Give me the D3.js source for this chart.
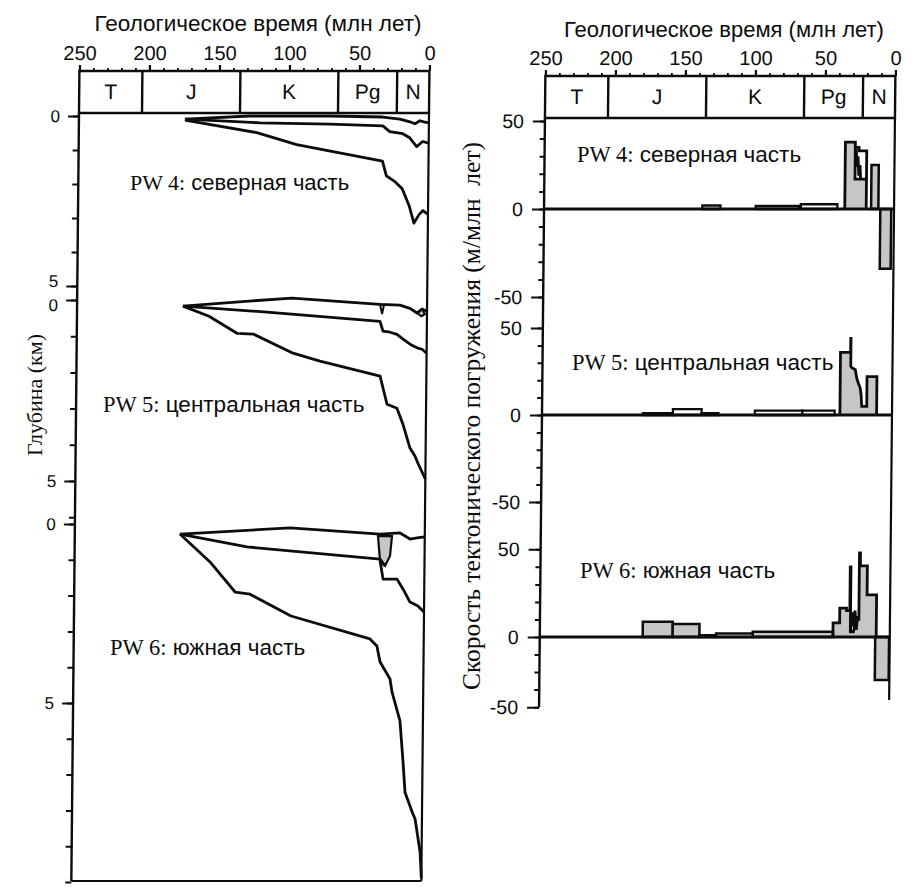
<!DOCTYPE html>
<html lang="ru">
<head>
<meta charset="utf-8">
<script src="https://cdn.jsdelivr.net/npm/d3@7/dist/d3.min.js"></script>
<style>
  body { margin: 0; background: #fff; }
  svg { display: block; }
</style>
</head>
<body>
<svg id="chart" width="921" height="888"></svg>
<script>
// ---------- geological time scale ----------
const periodNames   = ["T", "J", "K", "Pg", "N"];
const periodBounds  = [250, 205, 135, 65, 23, 0];
const ageTickLabels = [250, 200, 150, 100, 50, 0];
const ageMinorTicks = d3.range(250, -1, -10);

// ---------- wells ----------
const wellIds   = ["PW 4:", "PW 5:", "PW 6:"];
const wellParts = ["северная часть", "центральная часть", "южная часть"];

// ---------- burial history: [age, Ma ; depth, km] ----------
const pw4Top  = [[174.3,0.09],[127.9,0.0],[70.7,0.0],[32.9,0.03],[20.7,0.09],[13.6,0.17],[10,0.23],[6.4,0.14],[3.6,0.17],[0,0.2]];
const pw4Mid  = [[174.3,0.09],[120.7,0.2],[70.7,0.24],[32.9,0.29],[27.9,0.46],[18.6,0.52],[13.6,0.64],[8.6,0.9],[4.3,0.75],[0,0.8]];
const pw4Base = [[174.3,0.12],[122.9,0.49],[94.3,0.84],[32.9,1.33],[30,1.76],[23.6,1.94],[18.6,2.14],[13.6,2.63],[10,3.15],[6.4,2.9],[3.6,2.78],[0,2.89]];

const pw5Top  = [[174.4,0.17],[127.2,0.03],[96.6,-0.05],[33.6,0.12],[19.4,0.14],[12.2,0.23],[7.1,0.36],[3.6,0.25],[0,0.31]];
const pw5Mid  = [[174.4,0.17],[112.1,0.34],[33.5,0.59],[31.3,0.86],[26.3,0.89],[21.3,0.95],[16.9,1.08],[11.9,1.22],[6.2,1.33],[3.3,1.36],[0,1.47]];
const pw5Base = [[174.4,0.17],[155.7,0.45],[135.6,0.92],[123.9,0.94],[95.4,1.47],[76.1,1.69],[33.1,2.1],[27.9,2.88],[20.8,2.99],[16.4,3.43],[11.2,4.09],[7.6,4.31],[5.4,4.51],[0.3,4.92],[0,4.95]];
const pw5Lens = [[33.6,0.12],[32.1,0.39],[30.8,0.14]];
const pw5Blob = [[7.1,0.36],[3.6,0.25],[1.5,0.39],[4.0,0.45]];

const pw6Top  = [[174.9,0.28],[96.3,0.11],[32,0.28],[17.7,0.25],[10.5,0.42],[5.5,0.39],[0,0.36]];
const pw6Mid  = [[174.9,0.28],[126.9,0.64],[31.8,0.98],[28.2,1.17]];
const pw6Low  = [[31.8,1.03],[31.1,1.17],[29.5,1.54],[19.5,1.54],[15.1,1.82],[10.1,2.18],[4.4,2.29],[0,2.46]];
const pw6Base = [[174.9,0.28],[153.2,1.06],[135.1,1.9],[124.4,1.96],[95,2.57],[38.4,3.21],[33.4,3.41],[31.1,3.85],[23.8,4.33],[22.3,4.69],[16.4,5.5],[13.9,6.65],[12.3,7.49],[7.1,8.04],[4.9,8.24],[2.6,8.8],[1.1,9.16],[0,9.9]];
const pw6Lens = [[33.4,0.34],[23.4,0.34],[24.7,0.89],[28.2,1.17],[31.8,1.03]];

// ---------- tectonic subsidence rate, m/Ma ----------
// open bars: [from Ma, to Ma, rate]
const pw4Open = [[137,124,2],[98.8,67.9,1.7],[66.6,40.5,2.7]];
const pw5Open = [[178,156.5,1],[156.5,136,3.4],[136,124,1],[98,64,2.5],[64,41,2.5]];
const pw6Open = [[136,124.1,1],[124.1,97.9,2]];
// shaded bars: [from Ma, to Ma, rate]
const pw4Shaded = [[16.4,11.2,25],[9.8,2,-34]];
const pw5Shaded = [];
const pw6Shaded = [[176.5,155.1,8.7],[155.1,136,7.4],[97.9,40.6,3],[10.4,0.5,-24.5]];
// shaded step profiles: [age, rate]
const pw4Profile = [[35.2,0],[35.2,38],[28.1,38],[28.1,17],[19.9,17],[19.9,0]];
const pw5Profile = [[37.2,0],[37.2,36],[30,36],[30,44],[29.8,44],[29.8,28],[28.8,27],[26.5,26],[25.4,21],[24.1,18],[22.9,15.5],[22.2,11.5],[21.7,5],[18.1,5],[18.1,22],[11,22],[11,0]];
const pw6Profile = [[40.6,0],[40.6,8],[35.9,8],[35.9,16.5],[31.1,16.5],[31.1,15],[28.7,15],[28.7,40],[28.2,40],[28.2,3],[26,3],[24,10],[22.2,10],[22.2,48],[21.5,48],[21.5,40.5],[16.5,40.5],[16.5,24],[9.7,24],[9.7,0]];
// additional rate traces
const pw4Traces = [
  [[28.1,35],[25.4,35],[25.4,33],[19.9,33],[19.9,17]],
  [[27.4,34],[26.8,24],[26.1,30],[25.4,19],[24.6,25],[24.1,17]]
];
const pw5Traces = [];
const pw6Traces = [
  [[28.2,3],[27,14],[26.2,6],[25,15],[24,4],[23,12]]
];
const rateTickLabels = [50, 0, -50];
const depthTickLabels = [0, 5];

// ====================== drawing ======================
const SANS  = "'Liberation Sans', Arial, sans-serif";
const SERIF = "'Liberation Serif', 'Times New Roman', serif";
const INK = "#0c0c0c";
const SHADE = "#c6c6c6";

const svg = d3.select("#chart");
// the whole figure is drawn with a slight shear of its vertical lines
const SHEAR = -0.01, SHEAR_Y = 113;
const root = svg.append("g")
  .attr("transform", `translate(${-SHEAR * SHEAR_Y},0) skewX(${Math.atan(SHEAR) * 180 / Math.PI})`);

const xL = d3.scaleLinear().domain([250, 0]).range([79, 429]);
const xR = d3.scaleLinear().domain([250, 0]).range([545, 895]);

function styleAxis(g, size) {
  g.attr("font-family", SANS).attr("font-size", size);
  g.selectAll("text").attr("fill", INK);
  g.selectAll("line").attr("stroke", INK);
  g.select(".domain").remove();
}

function timeHeader(x, top, bottom) {
  const g = root.append("g");
  g.append("g").attr("transform", `translate(0,${top})`)
    .call(d3.axisTop(x).tickValues(ageMinorTicks).tickSize(3).tickFormat(""))
    .call(a => styleAxis(a, 20))
    .selectAll("line").attr("stroke-width", 1.8);
  g.append("g").attr("transform", `translate(0,${top})`)
    .call(d3.axisTop(x).tickValues(ageTickLabels).tickSize(6).tickPadding(5).tickFormat(d3.format("d")))
    .call(a => styleAxis(a, 20))
    .selectAll("line").attr("stroke-width", 2.2);
  g.append("rect")
    .attr("x", x(250)).attr("y", top)
    .attr("width", x(0) - x(250)).attr("height", bottom - top)
    .attr("fill", "none").attr("stroke", INK).attr("stroke-width", 2.4);
  g.selectAll(".pdiv").data(periodBounds.slice(1, -1)).join("line")
    .attr("x1", d => x(d)).attr("x2", d => x(d))
    .attr("y1", top).attr("y2", bottom)
    .attr("stroke", INK).attr("stroke-width", 2.4);
  g.selectAll(".pname").data(periodNames).join("text")
    .attr("x", (d, i) => (x(periodBounds[i]) + x(periodBounds[i + 1])) / 2)
    .attr("y", (top + bottom) / 2 + 7.5)
    .attr("text-anchor", "middle")
    .attr("font-family", SANS).attr("font-size", 21).attr("fill", INK)
    .text(d => d);
}

// ---------------- left: burial history ----------------
timeHeader(xL, 71, 113);

const depthPanels = [
  { y0: 116, ppk: 34.0, km: 5, curves: [pw4Top, pw4Mid, pw4Base], lenses: [], blobs: [] },
  { y0: 300, ppk: 36.2, km: 6, curves: [pw5Top, pw5Mid, pw5Base], lenses: [pw5Lens], blobs: [pw5Blob] },
  { y0: 524, ppk: 35.8, km: 10, curves: [pw6Top, pw6Mid, pw6Low, pw6Base], lenses: [], blobs: [pw6Lens] }
];

// vertical nudges of the depth labels, so the "5" of one panel and the "0" of the next stay apart
const depthLabelDy = [
  { 0: "0.32em", 5: "0.02em" },
  { 0: "0.62em", 5: "0.32em" },
  { 0: "0.32em", 5: "0.32em" }
];

depthPanels.forEach((p, k) => {
  const y = d3.scaleLinear().domain([0, p.km]).range([p.y0, p.y0 + p.ppk * p.km]);
  p.y = y;
  root.append("g").attr("transform", "translate(79,0)")
    .call(d3.axisLeft(y).tickValues(d3.range(0, p.km + 1)).tickSize(6).tickFormat(""))
    .call(a => styleAxis(a, 17))
    .selectAll("line").attr("stroke-width", 2);
  const lab = root.append("g").attr("transform", "translate(79,0)")
    .call(d3.axisLeft(y).tickValues(depthTickLabels).tickSize(11).tickPadding(8).tickFormat(d3.format("d")))
    .call(a => styleAxis(a, 17));
  lab.selectAll("line").attr("stroke-width", 2);
  lab.selectAll("text").attr("dy", d => depthLabelDy[k][d]);

  const line = d3.line().x(d => xL(d[0])).y(d => y(d[1]));
  p.blobs.forEach(b => root.append("path").attr("d", line(b) + "Z")
    .attr("fill", SHADE).attr("stroke", INK).attr("stroke-width", 2.2));
  p.lenses.forEach(b => root.append("path").attr("d", line(b) + "Z")
    .attr("fill", "none").attr("stroke", INK).attr("stroke-width", 2));
  p.curves.forEach(c => root.append("path").attr("d", line(c))
    .attr("fill", "none").attr("stroke", INK).attr("stroke-width", 2.8)
    .attr("stroke-linejoin", "round"));
});

// left frame
root.append("line").attr("x1", 79).attr("x2", 79).attr("y1", 113).attr("y2", 881)
  .attr("stroke", INK).attr("stroke-width", 2.4);
root.append("line").attr("x1", 429).attr("x2", 429).attr("y1", 113).attr("y2", 881)
  .attr("stroke", INK).attr("stroke-width", 2.2);
root.append("line").attr("x1", 79).attr("x2", 429).attr("y1", 881).attr("y2", 881)
  .attr("stroke", INK).attr("stroke-width", 2.2);

// ---------------- right: subsidence rate ----------------
timeHeader(xR, 76, 118);

const ratePanels = [
  { y0: 209, ppu: 1.76, lo: -50, open: pw4Open, shaded: pw4Shaded, profile: pw4Profile, traces: pw4Traces },
  { y0: 415, ppu: 1.74, lo: -50, open: pw5Open, shaded: pw5Shaded, profile: pw5Profile, traces: pw5Traces },
  { y0: 637, ppu: 1.754, lo: -40, open: pw6Open, shaded: pw6Shaded, profile: pw6Profile, traces: pw6Traces }
];

ratePanels.forEach(p => {
  const y = d3.scaleLinear().domain([0, 50]).range([p.y0, p.y0 - 50 * p.ppu]);
  root.append("g").attr("transform", "translate(545,0)")
    .call(d3.axisLeft(y).tickValues(d3.range(p.lo, 51, 10)).tickSize(5).tickFormat(""))
    .call(a => styleAxis(a, 19.5))
    .selectAll("line").attr("stroke-width", 2);
  // labelled ticks; the lowest tick of each panel carries the "-50" label
  const labelPos = rateTickLabels.map(v => v < 0 ? p.lo : v);
  const lab = root.append("g").attr("transform", "translate(545,0)")
    .call(d3.axisLeft(y).tickValues(labelPos).tickSize(12).tickPadding(9)
      .tickFormat((d, i) => rateTickLabels[i]))
    .call(a => styleAxis(a, 19.5));
  lab.selectAll("line").attr("stroke-width", 2);

  // shaded profile
  const area = d3.area().x(d => xR(d[0])).y0(y(0)).y1(d => y(d[1]));
  const line = d3.line().x(d => xR(d[0])).y(d => y(d[1]));
  root.append("path").attr("d", area(p.profile)).attr("fill", SHADE);
  // shaded bars
  root.selectAll(null).data(p.shaded).join("rect")
    .attr("x", d => xR(d[0])).attr("width", d => xR(d[1]) - xR(d[0]))
    .attr("y", d => Math.min(y(d[2]), y(0))).attr("height", d => Math.abs(y(d[2]) - y(0)))
    .attr("fill", SHADE).attr("stroke", INK).attr("stroke-width", 2.5);
  // open bars
  root.selectAll(null).data(p.open).join("rect")
    .attr("x", d => xR(d[0])).attr("width", d => xR(d[1]) - xR(d[0]))
    .attr("y", d => y(d[2])).attr("height", d => y(0) - y(d[2]))
    .attr("fill", "#fff").attr("stroke", INK).attr("stroke-width", 2.3);
  root.append("path").attr("d", line(p.profile))
    .attr("fill", "none").attr("stroke", INK).attr("stroke-width", 2.8);
  p.traces.forEach(t => root.append("path").attr("d", line(t))
    .attr("fill", "none").attr("stroke", INK).attr("stroke-width", 2.8));
  // zero line
  root.append("line").attr("x1", 545).attr("x2", 895).attr("y1", y(0)).attr("y2", y(0))
    .attr("stroke", INK).attr("stroke-width", 2.8);
  p.y = y;
});

// right frame
root.append("line").attr("x1", 545).attr("x2", 545).attr("y1", 118).attr("y2", ratePanels[2].y(-40))
  .attr("stroke", INK).attr("stroke-width", 2.4);
root.append("line").attr("x1", 895).attr("x2", 895).attr("y1", 118).attr("y2", 700)
  .attr("stroke", INK).attr("stroke-width", 2.2);

// ---------------- titles and labels ----------------
const titleText = "Геологическое время (млн лет)";
svg.append("text").attr("x", 258).attr("y", 31).attr("text-anchor", "middle")
  .attr("font-family", SANS).attr("font-size", 22.5).attr("fill", INK).text(titleText);
svg.append("text").attr("x", 724).attr("y", 37).attr("text-anchor", "middle")
  .attr("font-family", SANS).attr("font-size", 22).attr("fill", INK).text(titleText);

svg.append("text").attr("transform", "translate(42,395) rotate(-90)")
  .attr("text-anchor", "middle").attr("font-family", SERIF).attr("font-size", 22)
  .attr("fill", INK).text("Глубина (км)");
svg.append("text").attr("transform", "translate(480,416) rotate(-90)")
  .attr("text-anchor", "middle").attr("font-family", SERIF).attr("font-size", 25.5)
  .attr("fill", INK).text("Скорость тектонического погружения (м/млн  лет)")
  .style("white-space", "pre");

function wellLabel(x, y, i, size) {
  const t = svg.append("text").attr("x", x).attr("y", y).attr("fill", INK)
    .attr("font-size", size).style("white-space", "pre");
  t.append("tspan").attr("font-family", SERIF).text(wellIds[i]);
  t.append("tspan").attr("font-family", SANS).text(" " + wellParts[i]);
}
wellLabel(130, 190, 0, 22);
wellLabel(103, 412, 1, 22.5);
wellLabel(110, 655, 2, 22.5);
wellLabel(577, 162, 0, 22.5);
wellLabel(572, 370, 1, 22.5);
wellLabel(580, 578, 2, 22.5);
</script>
</body>
</html>
